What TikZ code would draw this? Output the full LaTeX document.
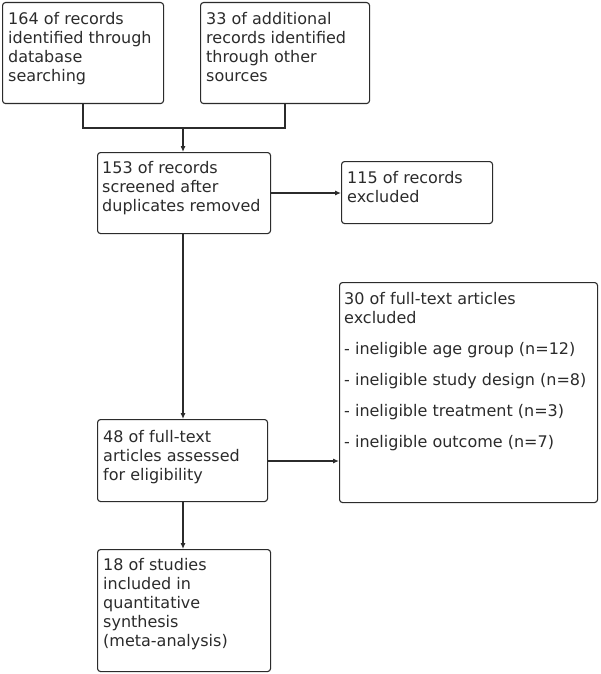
\documentclass[tikz,border=0pt]{standalone}
\usepackage{fontspec}
\setmainfont{DejaVu Sans}
\usetikzlibrary{arrows.meta}
\definecolor{ink}{HTML}{2B2B2B}
\newcommand\toprl{\rule{0pt}{14pt}}
\tikzset{
  box/.style={draw=ink, line width=1.1pt, rounded corners=3pt, anchor=north west, inner sep=0pt},
  txt/.style={anchor=north west, inner sep=0pt, align=left, text=ink, font=\fontsize{16}{19}\selectfont},
  conn/.style={draw=ink, line width=1.1pt},
  arr/.style={conn, -{Latex[length=6pt,width=5pt]}}
}
\begin{document}
\begin{tikzpicture}[x=1pt,y=-1pt]
\useasboundingbox (0,0) rectangle (600,674);
% boxes
\node[box, minimum width=161pt, minimum height=101pt] (b1) at (2,2) {};
\node[box, minimum width=169pt, minimum height=101pt] (b2) at (200,2) {};
\node[box, minimum width=173pt, minimum height=81pt] (b3) at (97,152) {};
\node[box, minimum width=151pt, minimum height=62pt] (b4) at (341,161) {};
\node[box, minimum width=258pt, minimum height=220pt] (b5) at (339,282) {};
\node[box, minimum width=170pt, minimum height=82pt] (b6) at (97,419) {};
\node[box, minimum width=173pt, minimum height=122pt] (b7) at (97,549) {};
% texts
\node[txt] (t1) at ([shift={(6,8)}]b1.north west) {\toprl 164 of records\\identified through\\database\\searching};
\node[txt] (t2) at ([shift={(6,8)}]b2.north west) {\toprl 33 of additional\\records identified\\through other\\sources};
\node[txt] (t3) at ([shift={(5,7)}]b3.north west) {\toprl 153 of records\\screened after\\duplicates removed};
\node[txt] (t4) at ([shift={(6,8)}]b4.north west) {\toprl 115 of records\\excluded};
\node[txt] (t5) at ([shift={(5,8)}]b5.north west) {\toprl 30 of full-text articles\\excluded\\[12pt]- ineligible age group (n=12)\\[12pt]- ineligible study design (n=8)\\[12pt]- ineligible treatment (n=3)\\[12pt]- ineligible outcome (n=7)};
\node[txt] (t6) at ([shift={(6,9)}]b6.north west) {\toprl 48 of full-text\\articles assessed\\for eligibility};
\node[txt] (t7) at ([shift={(6,7)}]b7.north west) {\toprl 18 of studies\\included in\\quantitative\\synthesis\\(meta-analysis)};
% connectors
\coordinate (m) at (183,128);
\draw[conn] (b1.south -| 83,0) |- (m);
\draw[conn] (b2.south -| 285,0) |- (m);
\draw[arr] (m) -- (m |- b3.north);
\draw[arr] (b3.east |- 0,193) -- (b4.west |- 0,193);
\draw[arr] (b3.south -| 183,0) -- (b6.north -| 183,0);
\draw[arr] (b6.east |- 0,461) -- (b5.west |- 0,461);
\draw[arr] (b6.south -| 183,0) -- (b7.north -| 183,0);
\end{tikzpicture}
\end{document}
